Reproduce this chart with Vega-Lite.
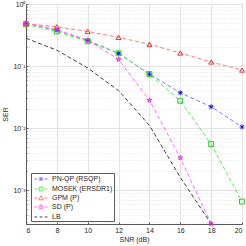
{
  "$schema": "https://vega.github.io/schema/vega-lite/v6.json",
  "width": 216,
  "height": 220,
  "autosize": "none",
  "padding": {"left": 26, "top": 4, "right": 4, "bottom": 22},
  "background": "white",
  "config": {
    "font": "Liberation Sans",
    "view": {"stroke": "#5a5a5a", "strokeWidth": 1},
    "axis": {"labelColor": "#262626", "titleColor": "#262626", "domainColor": "#5a5a5a", "tickColor": "#5a5a5a", "labelFontSize": 7, "titleFontSize": 7, "titleFontWeight": "normal"}
  },
  "data": {"values": [
    {"snr": 6, "ser": 0.49, "series": "PN-QP (RSQP)"},
    {"snr": 8, "ser": 0.38, "series": "PN-QP (RSQP)"},
    {"snr": 10, "ser": 0.26, "series": "PN-QP (RSQP)"},
    {"snr": 12, "ser": 0.16, "series": "PN-QP (RSQP)"},
    {"snr": 14, "ser": 0.074, "series": "PN-QP (RSQP)"},
    {"snr": 16, "ser": 0.037, "series": "PN-QP (RSQP)"},
    {"snr": 18, "ser": 0.022, "series": "PN-QP (RSQP)"},
    {"snr": 20, "ser": 0.0104, "series": "PN-QP (RSQP)"},
    {"snr": 6, "ser": 0.47, "series": "MOSEK (ERSDR1)"},
    {"snr": 8, "ser": 0.36, "series": "MOSEK (ERSDR1)"},
    {"snr": 10, "ser": 0.25, "series": "MOSEK (ERSDR1)"},
    {"snr": 12, "ser": 0.16, "series": "MOSEK (ERSDR1)"},
    {"snr": 14, "ser": 0.074, "series": "MOSEK (ERSDR1)"},
    {"snr": 16, "ser": 0.0275, "series": "MOSEK (ERSDR1)"},
    {"snr": 18, "ser": 0.0055, "series": "MOSEK (ERSDR1)"},
    {"snr": 20, "ser": 0.00065, "series": "MOSEK (ERSDR1)"},
    {"snr": 6, "ser": 0.48, "series": "GPM (P)"},
    {"snr": 8, "ser": 0.43, "series": "GPM (P)"},
    {"snr": 10, "ser": 0.36, "series": "GPM (P)"},
    {"snr": 12, "ser": 0.29, "series": "GPM (P)"},
    {"snr": 14, "ser": 0.224, "series": "GPM (P)"},
    {"snr": 16, "ser": 0.162, "series": "GPM (P)"},
    {"snr": 18, "ser": 0.116, "series": "GPM (P)"},
    {"snr": 20, "ser": 0.086, "series": "GPM (P)"},
    {"snr": 6, "ser": 0.49, "series": "SD (P)"},
    {"snr": 8, "ser": 0.38, "series": "SD (P)"},
    {"snr": 10, "ser": 0.26, "series": "SD (P)"},
    {"snr": 12, "ser": 0.128, "series": "SD (P)"},
    {"snr": 14, "ser": 0.028, "series": "SD (P)"},
    {"snr": 16, "ser": 0.0033, "series": "SD (P)"},
    {"snr": 18, "ser": 0.000285, "series": "SD (P)"},
    {"snr": 6, "ser": 0.28, "series": "LB"},
    {"snr": 8, "ser": 0.18, "series": "LB"},
    {"snr": 10, "ser": 0.093, "series": "LB"},
    {"snr": 12, "ser": 0.04, "series": "LB"},
    {"snr": 14, "ser": 0.011, "series": "LB"},
    {"snr": 16, "ser": 0.0016, "series": "LB"},
    {"snr": 18, "ser": 0.000285, "series": "LB"}
  ]},
  "encoding": {
    "x": {"field": "snr", "type": "quantitative", "scale": {"domain": [6, 20], "nice": false, "zero": false},
      "axis": {"values": [6, 8, 10, 12, 14, 16, 18, 20], "title": "SNR (dB)", "grid": true, "gridColor": "#e3e3e3", "tickSize": -2, "labelPadding": 4, "titlePadding": 2}},
    "y": {"field": "ser", "type": "quantitative", "scale": {"type": "log", "domain": [0.000283, 1], "nice": false},
      "axis": {"values": [0.0003, 0.0004, 0.0005, 0.0006, 0.0007, 0.0008, 0.0009, 0.001, 0.002, 0.003, 0.004, 0.005, 0.006, 0.007, 0.008, 0.009, 0.01, 0.02, 0.03, 0.04, 0.05, 0.06, 0.07, 0.08, 0.09, 0.1, 0.2, 0.3, 0.4, 0.5, 0.6, 0.7, 0.8, 0.9, 1],
        "labelExpr": "datum.value == 1 ? '10⁰' : datum.value == 0.1 ? '10⁻¹' : datum.value == 0.01 ? '10⁻²' : datum.value == 0.001 ? '10⁻³' : ''",
        "title": "SER", "grid": true, "gridColor": "#e3e3e3",
        "gridDash": {"condition": {"test": "indexof([1, 0.1, 0.01, 0.001], datum.value) >= 0", "value": []}, "value": [1, 2]},
        "tickSize": {"condition": {"test": "indexof([1, 0.1, 0.01, 0.001], datum.value) >= 0", "value": -2}, "value": -1},
        "labelPadding": 3, "titlePadding": 4}}
  },
  "layer": [
    {
      "mark": {"type": "line", "strokeDash": [4, 2.5], "strokeWidth": 1, "clip": true},
      "encoding": {
        "color": {"field": "series", "type": "nominal",
          "scale": {"domain": ["PN-QP (RSQP)", "MOSEK (ERSDR1)", "GPM (P)", "SD (P)", "LB"], "range": ["#7a7aff", "#4cef4c", "#ff7a7a", "#ff6aff", "#404040"]},
          "legend": {"title": null, "orient": "none", "legendX": 5, "legendY": 169, "fillColor": "white", "strokeColor": "#5a5a5a", "padding": 1, "rowPadding": 0, "symbolSize": 81, "symbolOffset": 4, "symbolStrokeWidth": 1, "labelFontSize": 7, "labelColor": "#262626", "labelOffset": 6, "labelLimit": 200,
            "encode": {"symbols": {"update": {
              "shape": {"signal": "datum.value === 'PN-QP (RSQP)' ? 'M-1.45,0H-0.8M0.8,0H1.45M-0.5,0H0.5M0,-0.5V0.5M-0.35,-0.35L0.35,0.35M-0.35,0.35L0.35,-0.35' : datum.value === 'MOSEK (ERSDR1)' ? 'M-1.45,0H-0.8M0.8,0H1.45M-0.42,-0.42H0.42V0.42H-0.42Z' : datum.value === 'GPM (P)' ? 'M-1.45,0H-0.8M0.8,0H1.45M0,-0.5L0.5,0.4H-0.5Z' : datum.value === 'SD (P)' ? 'M-1.45,0H-0.8M0.8,0H1.45M0,-0.55L0.124,-0.17L0.523,-0.17L0.2,0.065L0.323,0.445L0,0.21L-0.323,0.445L-0.2,0.065L-0.523,-0.17L-0.124,-0.17Z' : 'M-1.45,0H-0.85M-0.3,0H0.3M0.85,0H1.45'"}
            }}}}
        }
      }
    },
    {
      "transform": [{"filter": "datum.series !== 'LB'"}],
      "mark": {"type": "point", "filled": false, "strokeWidth": 1, "opacity": 1, "clip": false},
      "encoding": {
        "color": {"field": "series", "type": "nominal",
          "scale": {"domain": ["PN-QP (RSQP)", "MOSEK (ERSDR1)", "GPM (P)", "SD (P)"], "range": ["#1a1aff", "#22cc22", "#ee3333", "#ee22ee"]}, "legend": null},
        "shape": {"field": "series", "type": "nominal",
          "scale": {"domain": ["PN-QP (RSQP)", "MOSEK (ERSDR1)", "GPM (P)", "SD (P)"], "range": ["M-1,0H1M0,-1V1M-0.7,-0.7L0.7,0.7M-0.7,0.7L0.7,-0.7", "square", "triangle-up", "M0,-1L0.225,-0.309L0.951,-0.309L0.363,0.118L0.588,0.809L0,0.382L-0.588,0.809L-0.363,0.118L-0.951,-0.309L-0.225,-0.309Z"]}, "legend": null},
        "size": {"value": 24}
      }
    }
  ],
  "resolve": {"scale": {"color": "independent", "shape": "independent"}}
}
